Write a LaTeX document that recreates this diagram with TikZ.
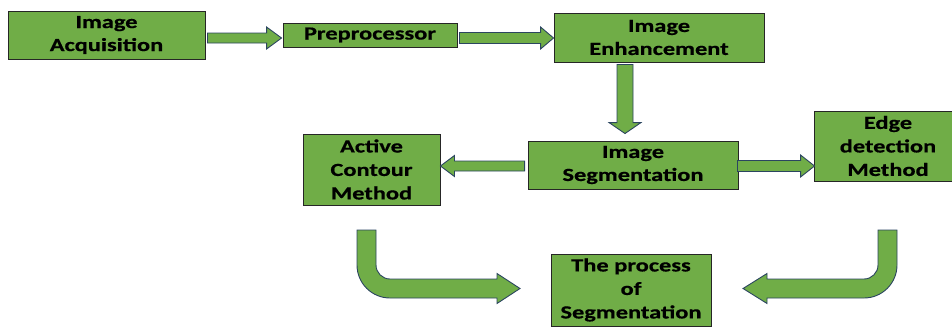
\documentclass[tikz,border=0pt]{standalone}
\usepackage{fontspec}
\setmainfont{Carlito}[FakeStretch=1.32]
\newfontfamily\boxfont{Carlito}[FakeStretch=1.32, BoldFeatures={FakeBold=0.6}]
\usetikzlibrary{calc}
\definecolor{boxgreen}{HTML}{70AD47}
\definecolor{arrline}{HTML}{2B4560}
\definecolor{boxline}{HTML}{262626}
\tikzset{
  box/.style={draw=boxline, fill=boxgreen, line width=0.9pt, align=center,
    font=\boxfont\fontsize{18.5}{23}\selectfont\bfseries, inner sep=0pt},
  flowarrow/.style={draw=arrline, fill=boxgreen, line width=0.9pt, line join=miter}
}
% block arrow: from, to, shaft half-width, head half-width, head length
\newcommand\blockarr[5]{%
  \coordinate (bacb) at ($(#2)!#5!(#1)$);
  \filldraw[flowarrow] ($(#1)!#3!90:(#2)$) -- ($(bacb)!#3!90:(#2)$) -- ($(bacb)!#4!90:(#2)$)
    -- (#2) -- ($(bacb)!#4!-90:(#2)$) -- ($(bacb)!#3!-90:(#2)$) -- ($(#1)!#3!-90:(#2)$) -- cycle;}
\begin{document}
\begin{tikzpicture}[x=1pt,y=-1pt]
\useasboundingbox (0,0) rectangle (952,327);
\node[box, minimum width=197pt, minimum height=48pt] (acq) at (106.5,35) {Image\\Acquisition};
\node[box, minimum width=174pt, minimum height=24pt] (pre) at (370,35) {Preprocessor};
\node[box, minimum width=210pt, minimum height=49pt] (enh) at (659,37.5) {Image\\Enhancement};
\node[box, minimum width=210pt, minimum height=48pt] (seg) at (633,165) {Image\\Segmentation};
\node[box, minimum width=137pt, minimum height=71pt] (act) at (371.5,169.5) {Active\\[0.5pt]Contour\\[0.5pt]Method};
\node[box, minimum width=148pt, minimum height=70pt] (edge) at (888,146) {Edge\\[0.5pt]detection\\[0.5pt]Method};
\node[box, minimum width=160pt, minimum height=72pt] (proc) at (631,290) {The process\\[0.5pt]of\\[0.5pt]Segmentation};

\coordinate (a1s) at ([shift={(2,3)}]acq.east);
\coordinate (a1e) at ([shift={(-1,3)}]pre.west);
\blockarr{a1s}{a1e}{5pt}{11pt}{15pt}
\coordinate (a2s) at ([shift={(2,3)}]pre.east);
\coordinate (a2e) at ([shift={(0,0.5)}]enh.west);
\blockarr{a2s}{a2e}{5.5pt}{11pt}{13pt}
\coordinate (a3s) at ([shift={(-34,2)}]enh.south);
\coordinate (a3e) at ([shift={(-8,-7)}]seg.north);
\blockarr{a3s}{a3e}{8pt}{16pt}{11pt}
\coordinate (a4s) at ([shift={(-3,1)}]seg.west);
\coordinate (a4e) at ([shift={(0,-3.5)}]act.east);
\blockarr{a4s}{a4e}{5pt}{10.5pt}{14pt}
\coordinate (a5s) at ([shift={(-1,1)}]seg.east);
\coordinate (a5e) at ([shift={(1,20)}]edge.west);
\blockarr{a5s}{a5e}{5.5pt}{11pt}{14pt}

% bent arrows
\filldraw[flowarrow] (357,230) -- (357,265) arc[start angle=180,end angle=270,radius=33pt]
  -- (497,298) -- (497,303.5) -- (520,288.5) -- (497,273.5) -- (497,279) -- (390,279)
  arc[start angle=270,end angle=180,radius=14pt] -- (376,230) -- cycle;
\filldraw[flowarrow] (897,230) -- (897,265) arc[start angle=0,end angle=-90,radius=33pt]
  -- (767,298) -- (767,303.5) -- (743,288.5) -- (767,273.5) -- (767,279) -- (864,279)
  arc[start angle=-90,end angle=0,radius=14pt] -- (878,230) -- cycle;
\end{tikzpicture}
\end{document}
